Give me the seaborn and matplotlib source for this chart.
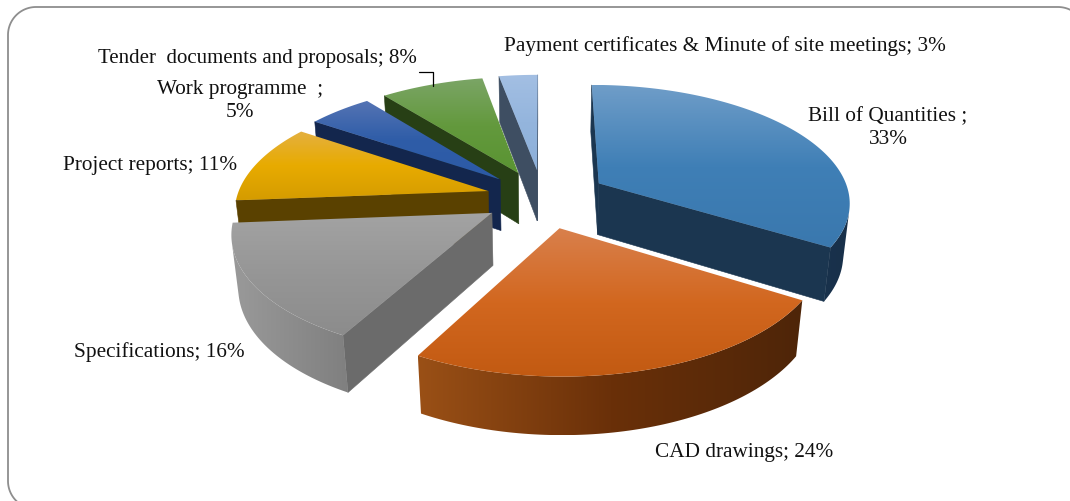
import numpy as np
import matplotlib
matplotlib.use("Agg")
import matplotlib.pyplot as plt
from matplotlib.patches import Polygon
import seaborn as sns

# Document-type shares of the exploded 3D pie
categories = ["Bill of Quantities", "CAD drawings", "Specifications", "Project reports",
              "Work programme", "Tender documents and proposals",
              "Payment certificates & Minute of site meetings"]
shares = [33, 24, 16, 11, 5, 8, 3]
explode = [0.26, 0.26, 0.235, 0.225, 0.235, 0.24, 0.245]

top_colors = [("#6F9DC8", "#3F7FB6", "#3A78AE"),
              ("#D9804C", "#D2671F", "#C25A12"),
              ("#A3A3A3", "#969696", "#8C8C8C"),
              ("#E4B040", "#E8AB00", "#D59C00"),
              ("#5574B4", "#2F5DA8", "#2C5AA6"),
              ("#7BA566", "#63993D", "#5A9432"),
              ("#A3BFE3", "#94B5DD", "#8CAFD9")]
rim_colors = [("#1F3D5C", "#18304A"),
              ("#9A5016", "#6A3009", "#4E2508"),
              ("#9A9A9A", "#5F5F5F"),
              ("#5E4300", "#574000"),
              ("#1A2F5C", "#13264D"),
              ("#2C4519", "#233A13"),
              ("#46566A", "#35465A")]
cut_colors = ["#1B3650", "#4E2508", "#6B6B6B", "#5A4100", "#13264D", "#273F15", "#3E4E62"]

label_texts = ["Bill of Quantities ;\n33%", "CAD drawings; 24%", "Specifications; 16%",
               "Project reports; 11%", "Work programme  ;\n5%",
               "Tender  documents and proposals; 8%",
               "Payment certificates & Minute of site meetings; 3%"]
label_xy = [(888, 128), (744, 453), (159, 352), (150.5, 166), (240, 101), (257.5, 59), (725, 46)]
label_size = [15.3, 15.3, 15.3, 15.3, 15.3, 15.0, 15.3]

# Camera: the pie plane is a homography of (u, v); the lower face sits one depth step below it
X0, YV = 542.5, -600.0
RU, RV, ETA0 = 0.315, 0.000183, 0.001252
DEPTH_W, DEPTH_Y = 2.71e-5, 0.088
TWIST = np.radians(3.5)


def project(u, v, lower=0.0):
    xi = RU * np.asarray(u, float)
    eta = ETA0 + RV * np.asarray(v, float)
    w = eta + DEPTH_W * lower
    return X0 + xi / w, YV + (1 + DEPTH_Y * lower) / w


def view_angle(t):
    # slight shear of the pie plane seen by the camera
    return t + TWIST * np.sin(t / 2)


def outline(t0, t1, ex):
    mid = view_angle((t0 + t1) / 2)
    cu, cv = ex * np.sin(mid), ex * np.cos(mid)
    arc = view_angle(np.linspace(t0, t1, max(int(np.degrees(t1 - t0)), 4)))
    u = np.r_[cu, cu + np.sin(arc)]
    v = np.r_[cv, cv + np.cos(arc)]
    return u, v


sns.set_theme(style="white")
plt.rcParams["font.family"] = ["Liberation Serif", "DejaVu Serif"]

fig = plt.figure(figsize=(10.7, 5.02), dpi=100)
ax = fig.add_axes([0, 0, 1, 1])

angles = np.radians(np.r_[0, np.cumsum(shares)] * 3.6)
wedges = []
for i in range(len(shares)):
    u, v = outline(angles[i], angles[i + 1], explode[i])
    wedges.append((v.mean(), i, u, v))
wedges.sort(key=lambda item: -item[0])

grad_v = np.linspace(0, 1, 128).reshape(-1, 1)
grad_h = np.linspace(0, 1, 256).reshape(1, -1)

z = 2
for _, i, u, v in wedges:
    x, y = project(u, v)
    xb, yb = project(u, v, 1.0)
    n = len(x)
    rim_map = sns.blend_palette(rim_colors[i], as_cmap=True)

    # faces turned toward the camera: the two cuts as flat quads, the arc as one band
    rim_idx = []
    for a in range(n):
        b = (a + 1) % n
        cross = (x[b] - x[a]) * (yb[a] - y[a]) - (y[b] - y[a]) * (xb[a] - x[a])
        if cross >= 0:
            continue
        if a == 0 or b == 0:
            ax.add_patch(Polygon([(x[a], y[a]), (x[b], y[b]), (xb[b], yb[b]), (xb[a], yb[a])],
                                 closed=True, facecolor=cut_colors[i],
                                 edgecolor=cut_colors[i], lw=0.4, zorder=z))
        else:
            rim_idx += [a, b]
    if rim_idx:
        idx = sorted(set(rim_idx))
        band = np.r_[np.c_[x[idx], y[idx]], np.c_[xb[idx], yb[idx]][::-1]]
        clip = Polygon(band, closed=True, facecolor="none", edgecolor="none", zorder=z)
        ax.add_patch(clip)
        img = ax.imshow(grad_h, cmap=rim_map, extent=[x.min(), x.max(), yb.max(), y.min()],
                        aspect="auto", interpolation="bilinear", zorder=z)
        img.set_clip_path(clip)
    z += 1

    top = Polygon(np.c_[x, y], closed=True, facecolor="none", edgecolor="none", zorder=z)
    ax.add_patch(top)
    cmap = sns.blend_palette(top_colors[i], as_cmap=True)
    img = ax.imshow(grad_v, cmap=cmap, extent=[x.min(), x.max(), y.max(), y.min()],
                    aspect="auto", interpolation="bilinear", zorder=z)
    img.set_clip_path(top)
    z += 1

# Slide frame, running off the right and bottom edges
r = 28
corner = np.linspace(0, np.pi / 2, 30)
frame_x = np.r_[(8 + r - r * np.cos(corner))[::-1], 8 + r - r * np.cos(corner), 1058 + r * np.sin(corner)]
frame_y = np.r_[(482 + r * np.sin(corner))[::-1], 8 + r - r * np.sin(corner), 8 + r - r * np.cos(corner)]
ax.plot(frame_x, frame_y, color="#8E8E8E", lw=1.3, zorder=1)

for text, (tx, ty), size in zip(label_texts, label_xy, label_size):
    ax.text(tx, ty, text, ha="center", va="center", fontsize=size, color="#111111",
            linespacing=1.3, zorder=z + 1)

# Leader line of the tender label
ax.plot([419, 433, 433], [73, 73, 87], color="black", lw=0.9, zorder=z + 1)

ax.set_xlim(0, 1070)
ax.set_ylim(502, 0)
ax.axis("off")
fig.savefig("out.png", dpi=100, facecolor="white")
